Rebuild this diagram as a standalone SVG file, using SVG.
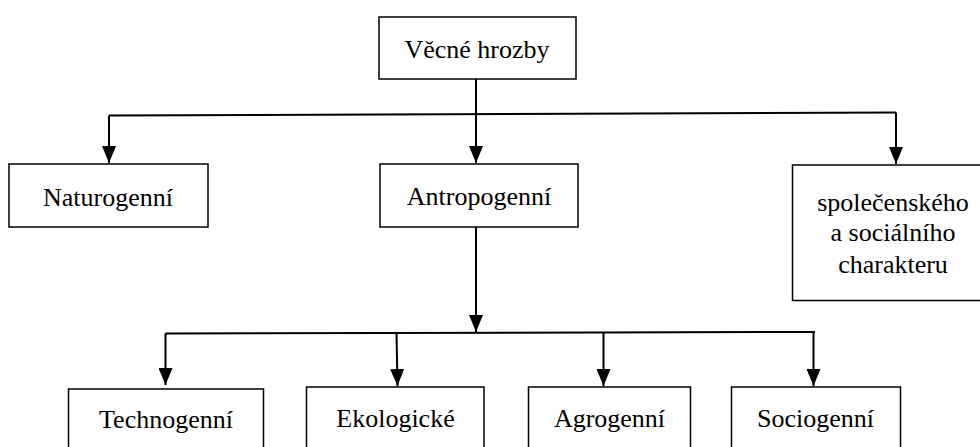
<svg xmlns="http://www.w3.org/2000/svg" width="980" height="447" viewBox="0 0 980 447">
<style>
.box{fill:#fff;stroke:#000;stroke-width:1.5}
.lbl{font-family:"Liberation Serif","Times New Roman",serif;font-size:26px;fill:#000;text-anchor:middle}
.ln{fill:none;stroke:#000;stroke-width:2}
</style>
<defs>
<marker id="ah" viewBox="0 0 17 14" refX="17" refY="7" markerWidth="17" markerHeight="14" markerUnits="userSpaceOnUse" orient="auto">
<path d="M0,0 L17,7 L0,14 Z" fill="#000"/>
</marker>
</defs>
<g id="connectors">
<line class="ln" x1="476" y1="79" x2="476" y2="114"/>
<line class="ln" x1="109" y1="115.5" x2="896" y2="112.5"/>
<line class="ln" x1="109" y1="115.5" x2="109" y2="163" marker-end="url(#ah)"/>
<line class="ln" x1="476" y1="114" x2="476" y2="163" marker-end="url(#ah)"/>
<line class="ln" x1="896" y1="112.5" x2="896" y2="164" marker-end="url(#ah)"/>
<line class="ln" x1="476" y1="227" x2="476" y2="332" marker-end="url(#ah)"/>
<line class="ln" x1="165.5" y1="333.5" x2="815" y2="332"/>
<line class="ln" x1="165.5" y1="333.5" x2="165.5" y2="385" marker-end="url(#ah)"/>
<line class="ln" x1="396.5" y1="333" x2="397.5" y2="386" marker-end="url(#ah)"/>
<line class="ln" x1="603.5" y1="332.5" x2="603.5" y2="386" marker-end="url(#ah)"/>
<line class="ln" x1="813.5" y1="332" x2="813.5" y2="386" marker-end="url(#ah)"/>
</g>
<g id="vecne-hrozby">
<rect class="box" x="379" y="17" width="197" height="62"/>
<text class="lbl" x="477" y="58">Věcné hrozby</text>
</g>
<g id="naturogenni">
<rect class="box" x="9" y="164" width="199" height="63"/>
<text class="lbl" x="108" y="206">Naturogenní</text>
</g>
<g id="antropogenni">
<rect class="box" x="380" y="164" width="198" height="63"/>
<text class="lbl" x="479" y="205">Antropogenní</text>
</g>
<g id="spolecenskeho">
<rect class="box" x="792.5" y="165" width="200" height="135.5"/>
<text class="lbl" x="893" y="211">společenského</text>
<text class="lbl" x="893" y="241">a sociálního</text>
<text class="lbl" x="893" y="273">charakteru</text>
</g>
<g id="technogenni">
<rect class="box" x="68.5" y="389" width="195" height="80"/>
<text class="lbl" x="166" y="428">Technogenní</text>
</g>
<g id="ekologicke">
<rect class="box" x="306.5" y="387" width="177.5" height="80"/>
<text class="lbl" x="395.5" y="427">Ekologické</text>
</g>
<g id="agrogenni">
<rect class="box" x="528.5" y="387" width="162" height="80"/>
<text class="lbl" x="609.5" y="427">Agrogenní</text>
</g>
<g id="sociogenni">
<rect class="box" x="731.5" y="387" width="169" height="80"/>
<text class="lbl" x="815.5" y="427">Sociogenní</text>
</g>
</svg>
